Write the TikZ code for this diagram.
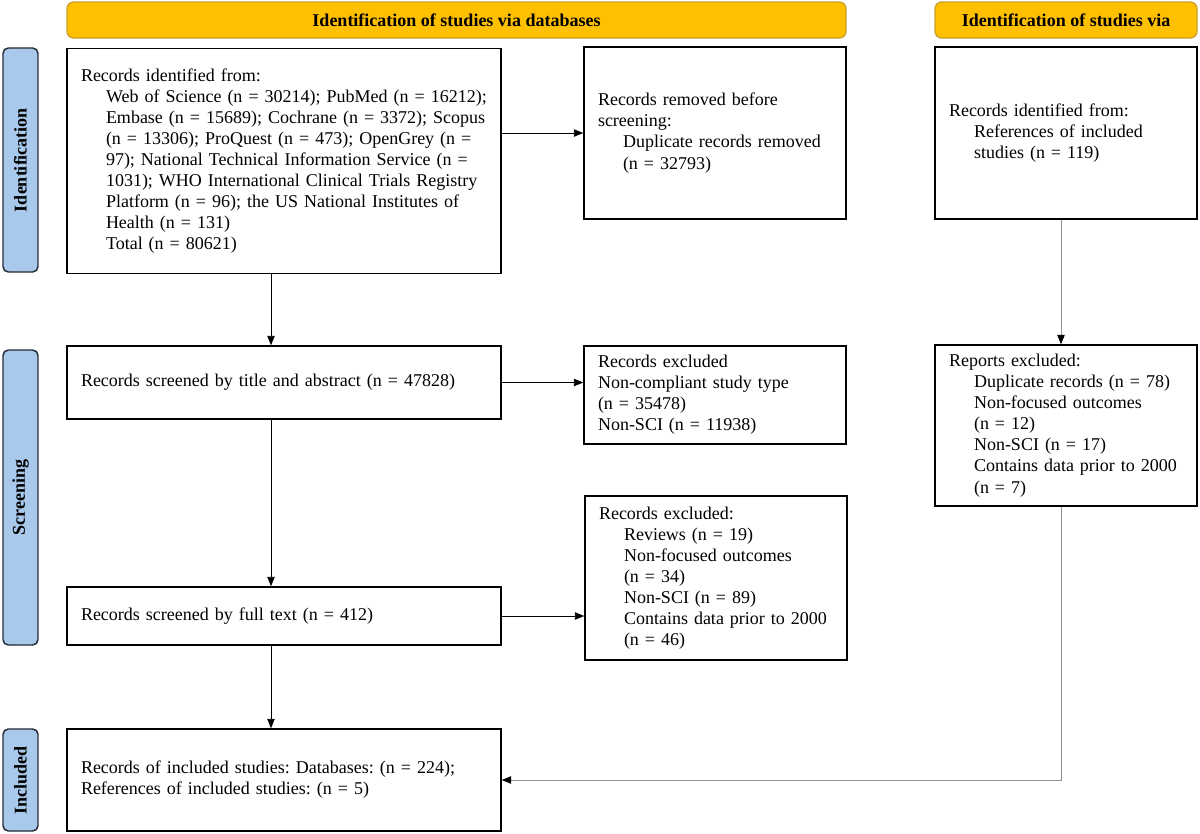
\documentclass[tikz,border=0pt]{standalone}
\usepackage{fontspec}
\setmainfont{Liberation Serif}
\usetikzlibrary{arrows.meta}
\definecolor{gold}{HTML}{FFC000}
\definecolor{goldline}{HTML}{C9A227}
\definecolor{sideblue}{HTML}{A9C9EC}
\definecolor{sideline}{HTML}{232B36}
\definecolor{linegray}{HTML}{909090}
\newcommand{\tf}{\fontsize{13.5pt}{15.8pt}\selectfont}
\newcommand{\ind}{\hspace*{18.75pt}}
\frenchspacing
\begin{document}
\frenchspacing
\begin{tikzpicture}[x=0.75pt,y=-0.75pt,
  hdr/.style={draw=goldline, fill=gold, line width=1pt, rounded corners=5pt,
    minimum height=27pt, inner sep=0pt, font=\tf\bfseries},
  side/.style={draw=sideline, fill=sideblue, line width=1.1pt, rounded corners=4pt,
    rotate=90, minimum height=26.25pt, inner sep=0pt, font=\tf\bfseries},
  bx/.style={draw, line width=1.1pt, inner xsep=10.5pt, inner ysep=0pt,
    align=left, font=\tf, fill=white},
  wide/.style={bx, text width=304.5pt},
  narrow/.style={bx, text width=175.5pt},
  arr/.style={-{Triangle[length=7pt,width=5.5pt]}, line width=0.6pt},
  garr/.style={-{Triangle[length=7pt,width=5.5pt,color=black]}, draw=linegray, line width=0.7pt}]
\useasboundingbox (0,0) rectangle (1200,833);

% headers
\node[hdr, minimum width=584.25pt] (h1) at (456.5,20) {Identification of studies via databases};
\node[hdr, minimum width=196.5pt] (h2) at (1066,20) {Identification of studies via};

% side labels
\node[side, minimum width=168pt] (s1) at (20.5,160) {Identification};
\node[side, minimum width=221.25pt] (s2) at (20.5,497.5) {Screening};
\node[side, minimum width=76.5pt] (s3) at (20.5,780) {Included};

% left column
\node[wide, minimum height=168.75pt] (A) at (284,161) {Records identified from:\\
\ind\mbox{Web of Science (n = 30214); PubMed (n = 16212);}\\
\ind\mbox{Embase (n = 15689); Cochrane (n = 3372); Scopus}\\
\ind\mbox{(n = 13306); ProQuest (n = 473); OpenGrey (n =}\\
\ind\mbox{97); National Technical Information Service (n =}\\
\ind\mbox{1031); WHO International Clinical Trials Registry}\\
\ind\mbox{Platform (n = 96); the US National Institutes of}\\
\ind\mbox{Health (n = 131)}\\
\ind\mbox{Total (n = 80621)}};
\node[wide, minimum height=54.75pt] (D) at (284,382.5) {Records screened by title and abstract (n = 47828)};
\node[wide, minimum height=43.5pt] (G) at (284,616) {Records screened by full text (n = 412)};
\node[wide, minimum height=76.5pt] (I) at (284,780) {Records of included studies: Databases: (n = 224);\\
References of included studies: (n = 5)};

% middle column
\node[narrow, minimum height=129pt] (B) at (715,133) {Records removed before\\
screening:\\
\ind Duplicate records removed\\
\ind (n = 32793)};
\node[narrow, minimum height=73.5pt] (E) at (715,395) {Records excluded\\
Non-compliant study type\\
(n = 35478)\\
Non-SCI (n = 11938)};
\node[narrow, minimum height=123pt] (H) at (716,578) {Records excluded:\\
\ind Reviews (n = 19)\\
\ind Non-focused outcomes\\
\ind (n = 34)\\
\ind Non-SCI (n = 89)\\
\ind Contains data prior to 2000\\
\ind (n = 46)};

% right column
\node[narrow, minimum height=129pt] (C) at (1066,133) {Records identified from:\\
\ind References of included\\
\ind studies (n = 119)};
\node[narrow, minimum height=120.75pt] (F) at (1066,425.5) {Reports excluded:\\
\ind Duplicate records (n = 78)\\
\ind Non-focused outcomes\\
\ind (n = 12)\\
\ind Non-SCI (n = 17)\\
\ind Contains data prior to 2000\\
\ind (n = 7)};

% connectors
\coordinate (vx) at (271,0);
\coordinate (rx) at (1061,0);
\draw[arr] (A.south -| vx) -- (D.north -| vx);
\draw[arr] (D.south -| vx) -- (G.north -| vx);
\draw[arr] (G.south -| vx) -- (I.north -| vx);
\draw[arr] (A.east |- B.west) -- (B.west);
\draw[arr] (D.east) -- (D.east -| E.west);
\draw[arr] (G.east) -- (G.east -| H.west);
\draw[garr] (C.south -| rx) -- (F.north -| rx);
\coordinate (cor) at (rx |- I.east);
\draw[garr] (F.south -| rx) -- (cor) -- (I.east);
\end{tikzpicture}
\end{document}
